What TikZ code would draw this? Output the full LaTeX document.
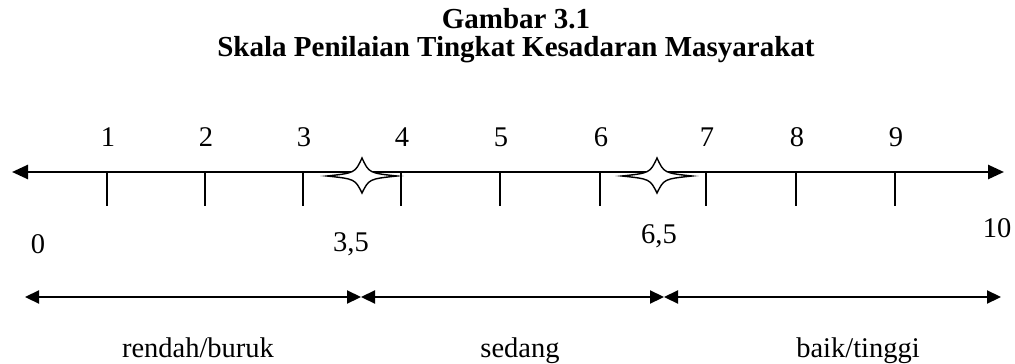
\documentclass[tikz,border=0pt]{standalone}
\usepackage{fontspec}
\setmainfont{Liberation Serif}
\usetikzlibrary{arrows.meta}
\tikzset{
  lbl/.style={font=\fontsize{28.5}{32}\selectfont, inner sep=0pt},
  ttl/.style={font=\fontsize{29}{32}\selectfont\bfseries, inner sep=0pt, anchor=base},
  axisline/.style={line width=2.6pt, {Triangle[length=16pt,width=14pt]}-{Triangle[length=16pt,width=14pt]}},
  rangeline/.style={line width=2.2pt, {Triangle[length=14pt,width=13pt]}-{Triangle[length=14pt,width=13pt]}},
  tickline/.style={line width=1.4pt},
  starshape/.style={line width=1.4pt, fill=white}
}
\begin{document}
\begin{tikzpicture}[x=1pt,y=-1pt]
\useasboundingbox (0,0) rectangle (1015,364);
% title
\node[ttl] (t1) at (516,28) {Gambar 3.1};
\node[ttl] (t2) at (516,56) {Skala Penilaian Tingkat Kesadaran Masyarakat};
% axis
\coordinate (aL) at (12,172);
\coordinate (aR) at (1004,172);
\draw[axisline] (aL) -- (aR);
% ticks and numbers
\foreach \x/\n [count=\i] in {107/1,205/2,303/3,401/4,500/5,600/6,706/7,796/8,895/9}{
  \coordinate (tk\i) at (\x,173);
  \coordinate (tb\i) at (\x,206);
  \draw[tickline] (tk\i) -- (tb\i);
  \node[lbl, anchor=base] (n\i) at (\x+1,146) {\n};
}
% stars
\foreach \cx/\nm in {362/sa,657/sb}{
  \coordinate (\nm) at (\cx,176);
  \draw[starshape] (\cx-35,176) .. controls (\cx-7,173) .. (\cx,158)
     .. controls (\cx+7,173) .. (\cx+35,176)
     .. controls (\cx+7,179) .. (\cx,193)
     .. controls (\cx-7,179) .. cycle;
}
% bottom labels
\node[lbl, anchor=base] (b0) at (38,253) {0};
\node[lbl, anchor=base] (b35) at (351,251) {3,5};
\node[lbl, anchor=base] (b65) at (659,243) {6,5};
\node[lbl, anchor=base] (b10) at (997,237) {10};
% ranges
\coordinate (r0) at (25,297);
\coordinate (r1) at (361,297);
\coordinate (r2) at (664,297);
\coordinate (r3) at (1001,297);
\draw[rangeline] (r0) -- (r1);
\draw[rangeline] (r1) -- (r2);
\draw[rangeline] (r2) -- (r3);
\node[lbl, anchor=base] (l1) at (198,357) {rendah/buruk};
\node[lbl, anchor=base] (l2) at (520,357) {sedang};
\node[lbl, anchor=base] (l3) at (858,357) {baik/tinggi};
\end{tikzpicture}
\end{document}
